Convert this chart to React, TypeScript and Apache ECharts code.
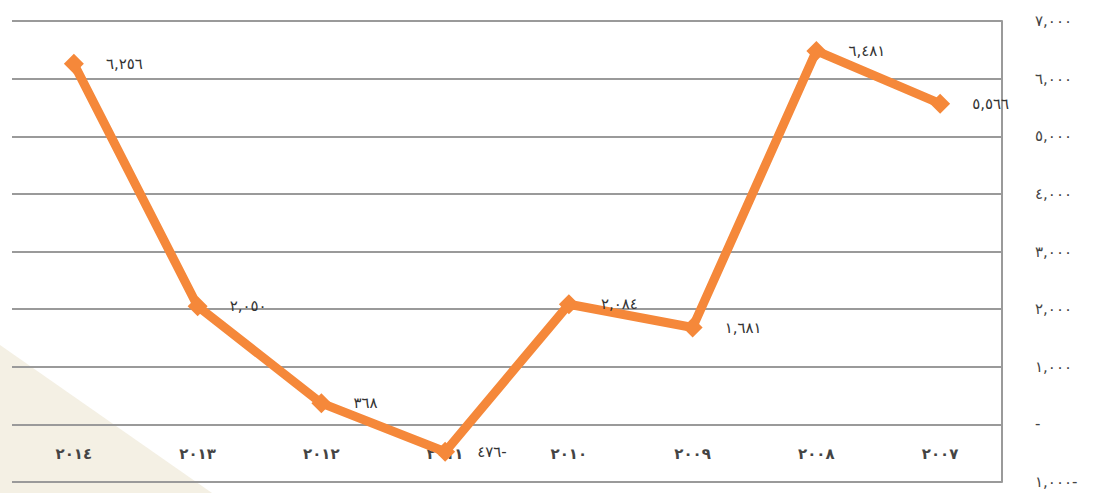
import React, { useEffect, useRef } from "react";
import * as echarts from "echarts";

const categories: string[] = ["٢٠١٤", "٢٠١٣", "٢٠١٢", "٢٠١١", "٢٠١٠", "٢٠٠٩", "٢٠٠٨", "٢٠٠٧"];
const values: number[] = [6256, 2050, 368, -476, 2084, 1681, 6481, 5566];
const yTickValues: number[] = [-1000, 0, 1000, 2000, 3000, 4000, 5000, 6000, 7000];
const yTickLabels: string[] = ["١,٠٠٠-", "-", "١,٠٠٠", "٢,٠٠٠", "٣,٠٠٠", "٤,٠٠٠", "٥,٠٠٠", "٦,٠٠٠", "٧,٠٠٠"];

const AR_DIGITS = "٠١٢٣٤٥٦٧٨٩";
function toArabic(n: number): string {
  const abs = Math.abs(n);
  const s = abs.toString().replace(/\B(?=(\d{3})+(?!\d))/g, ",");
  const ar = s.replace(/\d/g, (d) => AR_DIGITS[Number(d)]);
  return n < 0 ? ar + "-" : ar;
}

export default function App() {
  const ref = useRef<HTMLDivElement>(null);
  useEffect(() => {
    if (!ref.current) return;
    const chart = echarts.init(ref.current, undefined, { renderer: "svg" });
    chart.setOption({
      animation: false,
      backgroundColor: "#ffffff",
      textStyle: { fontFamily: "DejaVu Sans" },
      graphic: [
        {
          type: "polygon",
          z: -10,
          silent: true,
          shape: { points: [[0, 345], [212, 493], [0, 493]] },
          style: { fill: "#f4f0e4" },
        },
      ],
      grid: {
        left: 12,
        right: 103,
        top: 21,
        bottom: 11,
        containLabel: false,
        outerBoundsMode: "none",
      },
      xAxis: {
        type: "category",
        data: categories,
        boundaryGap: true,
        position: "bottom",
        axisLine: { show: false, onZero: false },
        axisTick: { show: false },
        axisLabel: {
          margin: -36,
          fontSize: 15,
          fontWeight: "bold",
          color: "#444",
          fontFamily: "DejaVu Sans",
        },
      },
      yAxis: {
        type: "value",
        position: "right",
        min: -1000,
        max: 7000,
        interval: 1000,
        axisLine: { show: true, lineStyle: { color: "#9a9a9a", width: 2 } },
        axisTick: { show: false },
        splitLine: { show: true, lineStyle: { color: "#9a9a9a", width: 2 } },
        axisLabel: {
          margin: 33,
          fontSize: 15,
          color: "#444",
          fontFamily: "DejaVu Sans",
          formatter: (v: number) => {
            const i = yTickValues.indexOf(v);
            return i >= 0 ? yTickLabels[i] : "";
          },
        },
      },
      series: [
        {
          type: "line",
          data: values,
          symbol: "diamond",
          symbolSize: 20,
          lineStyle: { color: "#f5883a", width: 9 },
          itemStyle: { color: "#f5883a" },
          label: {
            show: true,
            position: "right",
            distance: 22,
            fontSize: 15,
            color: "#333",
            fontFamily: "DejaVu Sans",
            formatter: (p: any) => toArabic(p.value as number),
          },
        },
      ],
    });
    return () => chart.dispose();
  }, []);
  return <div ref={ref} style={{ width: 1105, height: 493, position: "absolute", left: 0, top: 0 }} />;
}
